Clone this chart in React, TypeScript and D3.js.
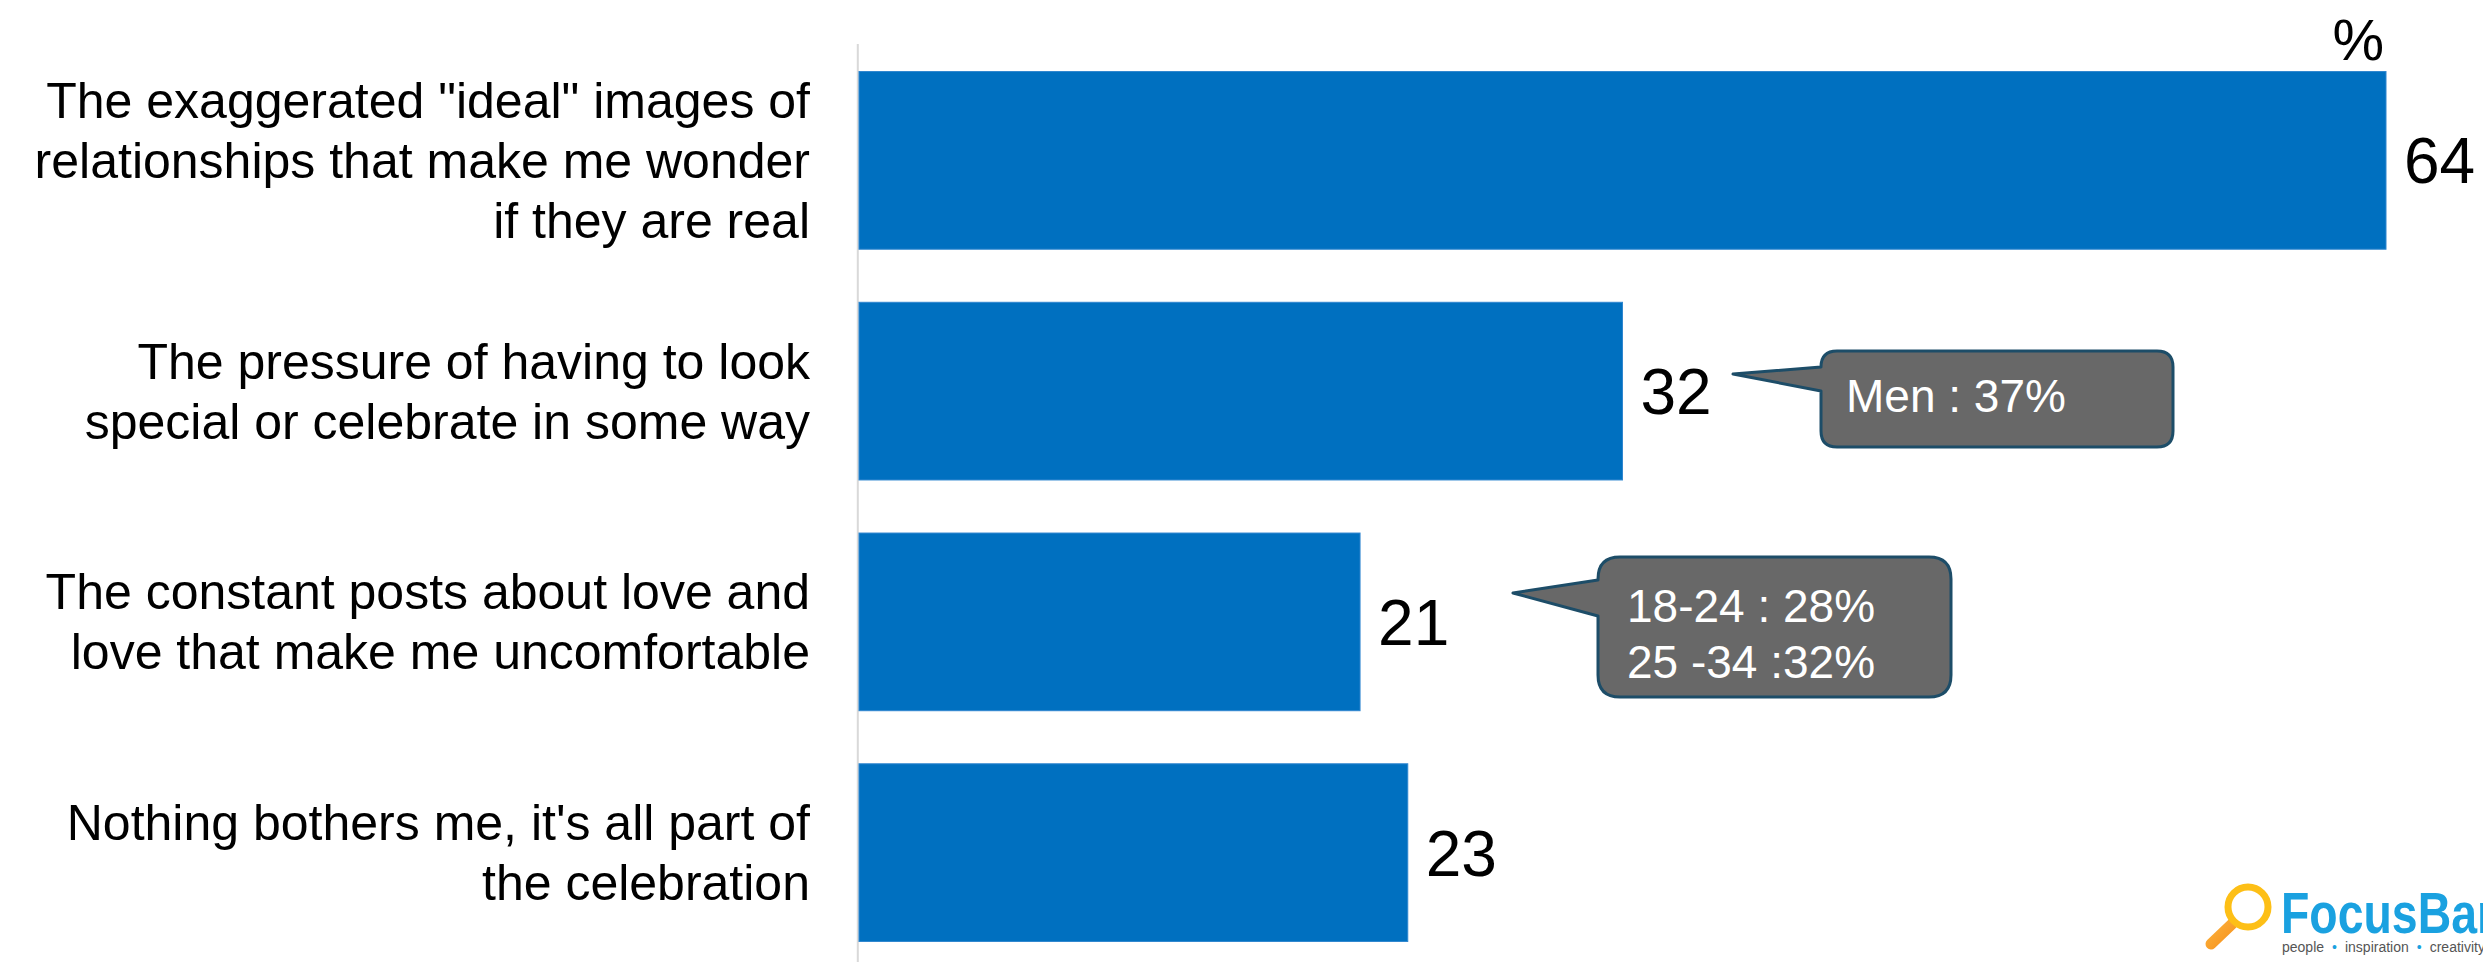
import React from "react";
import * as d3 from "d3";

// ---- data ----
const categories: string[][] = [
  ["The exaggerated \"ideal\" images of", "relationships that make me wonder", "if they are real"],
  ["The pressure of having to look", "special or celebrate in some way"],
  ["The constant posts about love and", "love that make me uncomfortable"],
  ["Nothing bothers me, it's all part of", "the celebration"],
];
const values: number[] = [64, 32, 21, 23];
const unitLabel = "%";
const calloutCategory: number[] = [1, 2];
const calloutTexts: string[][] = [["Men : 37%"], ["18-24 : 28%", "25 -34 :32%"]];
const logoName = "FocusBari";
const logoTagline: string[] = ["people", "inspiration", "creativity"];

// ---- layout ----
const W = 2483;
const H = 962;
const FONT = "'Liberation Sans', Arial, Helvetica, sans-serif";
const calloutLayout = [
  { x0: 1821, y0: 351, x1: 2173, y1: 447, yA: 367, yB: 391, tx: 1733, ty: 374, r: 16, textX: 1846, base: 412 },
  { x0: 1598, y0: 557, x1: 1951, y1: 697, yA: 580, yB: 616, tx: 1513, ty: 593, r: 22, textX: 1627, base: 622 },
];

function calloutPath(c: typeof calloutLayout[number]) {
  const { x0, y0, x1, y1, yA, yB, tx, ty, r } = c;
  return [
    `M${x0 + r},${y0}`,
    `H${x1 - r}`,
    `Q${x1},${y0} ${x1},${y0 + r}`,
    `V${y1 - r}`,
    `Q${x1},${y1} ${x1 - r},${y1}`,
    `H${x0 + r}`,
    `Q${x0},${y1} ${x0},${y1 - r}`,
    `V${yB}`,
    `L${tx},${ty}`,
    `L${x0},${yA}`,
    `V${y0 + r}`,
    `Q${x0},${y0} ${x0 + r},${y0}`,
    "Z",
  ].join(" ");
}

export default function App() {
  const idx = categories.map((_, i) => String(i));
  const y = d3.scaleBand<string>().domain(idx).range([45, 968]).paddingInner(0.23).paddingOuter(0.115);
  const x = d3.scaleLinear().domain([0, 64]).range([859, 2386]);
  const labelRight = 810;
  const lineH = 60;

  return (
    <svg
      width={W}
      height={H}
      style={{ position: "absolute", left: 0, top: 0, background: "#fff" }}
      fontFamily={FONT}
    >
      <rect x={0} y={0} width={W} height={H} fill="#fff" />
      {/* axis line */}
      <line x1={857.8} x2={857.8} y1={44} y2={H} stroke="#d9d9d9" strokeWidth={2} />

      {/* bars */}
      {values.map((v, i) => {
        const y0 = y(String(i))!;
        const bw = y.bandwidth();
        const cy = y0 + bw / 2;
        const lines = categories[i];
        const firstBase = cy + 17.5 - ((lines.length - 1) * lineH) / 2;
        return (
          <g key={i}>
            <rect x={x(0)} y={y0} width={x(v) - x(0)} height={bw} fill="#0070c0" stroke="#2f86cf" strokeWidth={1} />
            <text x={x(v) + 18} y={cy + 23} fontSize={64} fill="#000">
              {v}
            </text>
            <text fontSize={50} fill="#000" textAnchor="end">
              {lines.map((l, j) => (
                <tspan key={j} x={labelRight} y={firstBase + j * lineH}>
                  {l}
                </tspan>
              ))}
            </text>
          </g>
        );
      })}

      {/* unit label */}
      <text x={2384} y={60} fontSize={58} textAnchor="end" fill="#000">
        {unitLabel}
      </text>

      {/* callouts */}
      {calloutCategory.map((ci, k) => {
        const c = calloutLayout[k];
        return (
          <g key={k}>
            <path d={calloutPath(c)} fill="#686868" stroke="#1d4d68" strokeWidth={3} strokeLinejoin="round" />
            <text fontSize={46} fill="#fff">
              {calloutTexts[k].map((t, j) => (
                <tspan key={j} x={c.textX} y={c.base + j * 56}>
                  {t}
                </tspan>
              ))}
            </text>
          </g>
        );
      })}

      {/* logo */}
      <defs>
        <linearGradient id="handleGrad" x1="0" y1="0" x2="1" y2="1">
          <stop offset="0" stopColor="#fbb03b" />
          <stop offset="1" stopColor="#f7931e" />
        </linearGradient>
      </defs>
      <g>
        <line x1={2232} y1={924} x2={2211} y2={944} stroke="url(#handleGrad)" strokeWidth={11} strokeLinecap="round" />
        <circle cx={2248} cy={907} r={20} fill="none" stroke="#fdbf16" strokeWidth={7} />
        <text
          transform="translate(2281,933) scale(0.8,1)"
          fontSize={58}
          fontWeight="bold"
          fill="#1aa1e0"
          fontFamily={FONT}
        >
          {logoName}
        </text>
        <text x={2282} y={952} fontSize={14} fill="#555" fontFamily={FONT}>
          {logoTagline.map((t, j) => (
            <tspan key={j}>
              {j > 0 ? (
                <tspan fill="#1aa1e0" dx={8}>
                  •
                </tspan>
              ) : null}
              <tspan dx={j > 0 ? 8 : 0}>{t}</tspan>
            </tspan>
          ))}
        </text>
      </g>
    </svg>
  );
}
